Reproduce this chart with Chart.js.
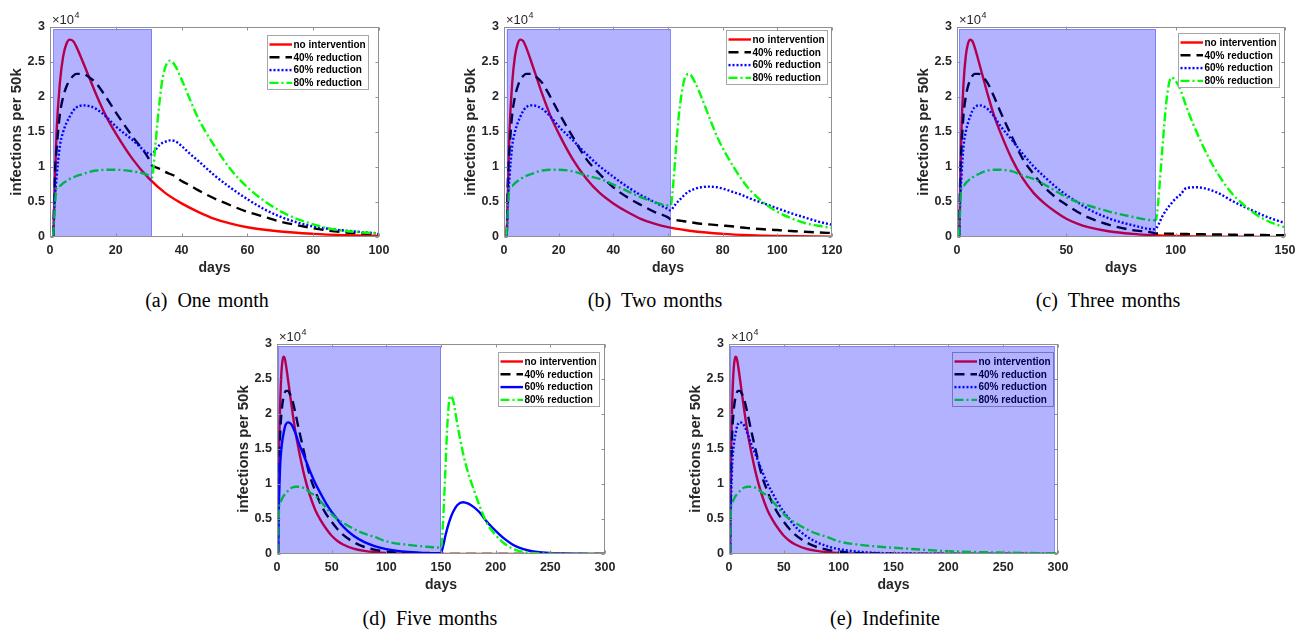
<!DOCTYPE html>
<html>
<head>
<meta charset="utf-8">
<script src="https://cdn.jsdelivr.net/npm/chart.js@4.4.0/dist/chart.umd.min.js"></script>
<style>
  html, body { margin: 0; padding: 0; background: #fff; width: 1304px; height: 633px; overflow: hidden; }
  .cap { position: absolute; font-family: "Liberation Serif", "Times New Roman", serif; font-size: 20px;
         line-height: 20px; white-space: pre; color: #000; transform: translateX(-50%); word-spacing: 2px; }
</style>
</head>
<body>
<script>
// Infections per 50k (in units of 10^4) while the contact reduction is in force.
const activeDays     = [1, 1.5, 2, 3, 4, 5, 6, 7, 8, 10, 12, 14, 17, 20, 25, 30, 35, 40, 45, 50, 55, 60, 70, 80, 90, 100, 120, 140, 150, 200, 250, 300];
const noIntervention = [0.02, 0.8, 1.5, 2.2, 2.58, 2.76, 2.82, 2.8, 2.72, 2.5, 2.27, 2.04, 1.73, 1.48, 1.12, 0.84, 0.63, 0.48, 0.36, 0.26, 0.19, 0.14, 0.078, 0.045, 0.026, 0.015, 0.005, 0.002, 0.001, 0, 0, 0];
const reduction40    = [0.02, 0.9, 1.25, 1.75, 2.0, 2.15, 2.24, 2.3, 2.33, 2.33, 2.28, 2.2, 2.0, 1.78, 1.44, 1.12, 0.9, 0.71, 0.57, 0.46, 0.36, 0.28, 0.17, 0.1, 0.06, 0.035, 0.012, 0.005, 0.003, 0, 0, 0];
const reduction60    = [0.02, 0.55, 0.85, 1.3, 1.5, 1.63, 1.72, 1.8, 1.85, 1.88, 1.87, 1.83, 1.72, 1.58, 1.39, 1.19, 1.01, 0.86, 0.72, 0.6, 0.5, 0.4, 0.26, 0.17, 0.11, 0.07, 0.03, 0.013, 0.01, 0.002, 0, 0];
const reduction80    = [0.02, 0.45, 0.7, 0.73, 0.77, 0.8, 0.83, 0.85, 0.87, 0.9, 0.93, 0.95, 0.96, 0.96, 0.94, 0.88, 0.83, 0.75, 0.66, 0.57, 0.5, 0.45, 0.36, 0.29, 0.24, 0.18, 0.13, 0.1, 0.09, 0.04, 0.02, 0.01];

// After lifting the reduction: one month
const liftDaysA = [31, 32, 33, 34, 35, 36.5, 38, 40, 42.5, 45, 50, 55, 60, 65, 70, 75, 80, 85, 90, 95, 100];
const lift40A   = [1.02, 1.0, 0.98, 0.96, 0.93, 0.9, 0.87, 0.8, 0.74, 0.67, 0.55, 0.45, 0.36, 0.29, 0.22, 0.17, 0.125, 0.09, 0.065, 0.05, 0.04];
const lift60A   = [1.18, 1.24, 1.3, 1.34, 1.36, 1.38, 1.37, 1.3, 1.19, 1.09, 0.88, 0.7, 0.54, 0.4, 0.29, 0.21, 0.15, 0.115, 0.09, 0.07, 0.05];
const lift80A   = [0.85, 1.3, 1.8, 2.2, 2.42, 2.52, 2.45, 2.25, 1.97, 1.7, 1.3, 0.96, 0.71, 0.52, 0.37, 0.26, 0.18, 0.12, 0.085, 0.065, 0.05];

// Two months
const liftDaysB = [61, 62, 63, 64, 65, 66, 67.6, 70, 72, 75, 78, 81, 84, 87, 90, 95, 100, 105, 110, 115, 120];
const lift40B   = [0.25, 0.245, 0.24, 0.235, 0.23, 0.225, 0.215, 0.2, 0.19, 0.18, 0.17, 0.16, 0.15, 0.135, 0.125, 0.11, 0.1, 0.085, 0.075, 0.065, 0.057];
const lift60B   = [0.38, 0.43, 0.48, 0.52, 0.56, 0.6, 0.65, 0.69, 0.71, 0.72, 0.71, 0.68, 0.64, 0.6, 0.55, 0.48, 0.41, 0.34, 0.28, 0.22, 0.175];
const lift80B   = [0.45, 0.8, 1.3, 1.75, 2.05, 2.25, 2.33, 2.2, 2.02, 1.72, 1.43, 1.2, 1.0, 0.82, 0.67, 0.49, 0.36, 0.27, 0.2, 0.16, 0.13];

// Three months
const liftDaysC = [91, 92, 94, 96, 98, 100, 102, 105, 110, 115, 120, 125, 130, 135, 140, 145, 150];
const lift40C   = [0.05, 0.05, 0.049, 0.048, 0.047, 0.045, 0.044, 0.042, 0.04, 0.037, 0.035, 0.033, 0.03, 0.029, 0.028, 0.026, 0.025];
const lift60C   = [0.12, 0.17, 0.3, 0.4, 0.48, 0.55, 0.6, 0.7, 0.71, 0.68, 0.62, 0.53, 0.45, 0.38, 0.31, 0.25, 0.2];
const lift80C   = [0.24, 0.5, 1.3, 2.0, 2.28, 2.23, 2.12, 1.85, 1.47, 1.14, 0.87, 0.65, 0.49, 0.36, 0.26, 0.19, 0.14];

// Five months
const liftDaysD = [150, 152, 154, 156, 158.4, 161, 165, 170, 175, 180, 185, 192, 200, 207, 215, 222, 230, 240, 253, 270, 300];
const lift40D   = [0.003, 0.002, 0.001, 0.001, 0, 0, 0, 0, 0, 0, 0, 0, 0, 0, 0, 0, 0, 0, 0, 0, 0];
const lift60D   = [0.01, 0.12, 0.26, 0.38, 0.5, 0.6, 0.7, 0.74, 0.72, 0.67, 0.6, 0.46, 0.33, 0.23, 0.14, 0.086, 0.05, 0.025, 0.01, 0.003, 0];
const lift80D   = [0.09, 0.5, 1.2, 1.9, 2.26, 2.2, 1.85, 1.45, 1.15, 0.92, 0.7, 0.44, 0.27, 0.16, 0.08, 0.04, 0.02, 0.008, 0.003, 0.001, 0];

// Reduction period (days) and axis extents per panel
const lockdownStart = [1, 1, 1, 1, 1];
const lockdownEnd   = [31, 61, 91, 150, 297];
const lockdownTop   = 2.97;
const xMax  = [100, 120, 150, 300, 300];
const xStep = [20, 20, 50, 50, 50];
const yMax  = 3;
const yStep = 0.5;

const seriesNames = ['no intervention', '40% reduction', '60% reduction', '80% reduction'];
const captions = ['(a)\u2002One month', '(b)\u2002Two months', '(c)\u2002Three months', '(d)\u2002Five months', '(e)\u2002Indefinite'];

const liftSets = [
  { days: liftDaysA, r40: lift40A, r60: lift60A, r80: lift80A },
  { days: liftDaysB, r40: lift40B, r60: lift60B, r80: lift80B },
  { days: liftDaysC, r40: lift40C, r60: lift60C, r80: lift80C },
  { days: liftDaysD, r40: lift40D, r60: lift60D, r80: lift80D },
  null
];

// ---------- layout ----------
const panels = [
  { left: 50,  top: 27,  w: 329, h: 210, legendDx: 11.5, legendDy: 8, capX: 207,  capY: 290 },
  { left: 504, top: 27,  w: 328, h: 210, legendDx: 5,    legendDy: 3, capX: 655,  capY: 290 },
  { left: 957, top: 27,  w: 328, h: 210, legendDx: 6,    legendDy: 6, capX: 1108, capY: 290 },
  { left: 277, top: 344, w: 328, h: 210, legendDx: 6,    legendDy: 8, capX: 430,  capY: 608 },
  { left: 729, top: 344, w: 329, h: 210, legendDx: 5,    legendDy: 8, capX: 885,  capY: 608 }
];
const PADL = 50, PADT = 30, PADR = 20, PADB = 45;
const AX = '#262626';
const FRAME = '#8f8f8f';
const LW = 2.4;

Chart.defaults.font.family = '"Liberation Sans", Arial, sans-serif';

function pts(days, vals) { return days.map((d, i) => ({ x: d, y: vals[i] })); }
function joined(active, liftDays, liftVals) {
  const base = pts(activeDays, active);
  if (!liftDays) return base;
  return base.filter(p => p.x < liftDays[0]).concat(pts(liftDays, liftVals));
}

// Legend, shaded reduction period, axes box with inward ticks and the x10^4 exponent
const panelDecor = {
  id: 'panelDecor',
  afterDatasetsDraw(chart, args, opts) {
    const { ctx, chartArea: a, scales: { x, y } } = chart;
    ctx.save();

    // legend box
    const bw = 101, bh = 54;
    const bx = Math.round(a.right - opts.legendDx - bw) + 0.5;
    const by = Math.round(a.top + opts.legendDy) + 0.5;
    ctx.fillStyle = '#ffffff';
    ctx.fillRect(bx, by, bw, bh);
    ctx.strokeStyle = '#a6a6a6';
    ctx.lineWidth = 1;
    ctx.setLineDash([]);
    ctx.strokeRect(bx, by, bw, bh);
    ctx.font = 'bold 10px "Liberation Sans", Arial, sans-serif';
    ctx.textBaseline = 'middle';
    ctx.textAlign = 'left';
    chart.data.datasets.forEach((ds, i) => {
      const ry = by + 9 + i * 12.8;
      ctx.beginPath();
      ctx.strokeStyle = ds.borderColor;
      ctx.lineWidth = ds.borderWidth;
      ctx.setLineDash(ds.borderDash || []);
      ctx.moveTo(bx + 2, ry);
      ctx.lineTo(bx + 24.5, ry);
      ctx.stroke();
      ctx.setLineDash([]);
      ctx.fillStyle = '#000';
      ctx.fillText(ds.label, bx + 26, ry + 0.5);
    });

    // translucent reduction period
    const sx0 = x.getPixelForValue(opts.shade[0]);
    const sx1 = x.getPixelForValue(opts.shade[1]);
    const sy0 = y.getPixelForValue(opts.shade[2]);
    const sy1 = y.getPixelForValue(0);
    ctx.fillStyle = 'rgba(0,0,255,0.3)';
    ctx.fillRect(sx0, sy0, sx1 - sx0, sy1 - sy0);
    ctx.strokeStyle = 'rgba(60,60,255,0.45)';
    ctx.lineWidth = 1;
    ctx.strokeRect(Math.round(sx0) + 0.5, Math.round(sy0) + 0.5, Math.round(sx1 - sx0) - 1, Math.round(sy1 - sy0) - 1);

    // axes frame
    ctx.strokeStyle = FRAME;
    ctx.lineWidth = 1;
    const L = Math.round(a.left) + 0.5, R = Math.round(a.right) - 0.5;
    const T = Math.round(a.top) + 0.5, B = Math.round(a.bottom) - 0.5;
    ctx.strokeRect(L, T, R - L, B - T);
    ctx.beginPath();
    x.ticks.forEach(t => {
      const px = Math.round(x.getPixelForValue(t.value)) + 0.5;
      ctx.moveTo(px, B); ctx.lineTo(px, B - 3);
      ctx.moveTo(px, T); ctx.lineTo(px, T + 3);
    });
    y.ticks.forEach(t => {
      const py = Math.round(y.getPixelForValue(t.value)) + 0.5;
      ctx.moveTo(L, py); ctx.lineTo(L + 3, py);
      ctx.moveTo(R, py); ctx.lineTo(R - 3, py);
    });
    ctx.stroke();

    // exponent label
    ctx.fillStyle = AX;
    ctx.textBaseline = 'alphabetic';
    ctx.font = '13px "Liberation Sans", Arial, sans-serif';
    const base = '\u00d710';
    ctx.fillText(base, a.left + 2, a.top - 3.5);
    const bwid = ctx.measureText(base).width;
    ctx.font = '9px "Liberation Sans", Arial, sans-serif';
    ctx.fillText('4', a.left + 2.5 + bwid, a.top - 9.5);
    ctx.restore();
  }
};

panels.forEach((P, i) => {
  const cv = document.createElement('canvas');
  cv.width = P.w + PADL + PADR;
  cv.height = P.h + PADT + PADB;
  cv.style.cssText = `position:absolute;left:${P.left - PADL}px;top:${P.top - PADT}px;width:${cv.width}px;height:${cv.height}px;`;
  document.body.appendChild(cv);

  const lift = liftSets[i];
  const datasets = [
    { label: seriesNames[0], data: pts(activeDays, noIntervention),
      borderColor: '#ff0000', borderWidth: LW, borderDash: [], order: 4 },
    { label: seriesNames[1], data: joined(reduction40, lift && lift.days, lift && lift.r40),
      borderColor: '#000000', borderWidth: LW, borderDash: [10, 6], order: 3 },
    { label: seriesNames[2], data: joined(reduction60, lift && lift.days, lift && lift.r60),
      borderColor: '#0000ff', borderWidth: LW, borderDash: i === 3 ? [] : [2, 2], order: 2 },
    { label: seriesNames[3], data: joined(reduction80, lift && lift.days, lift && lift.r80),
      borderColor: '#00ff00', borderWidth: LW, borderDash: [9, 3, 2, 3], order: 1 }
  ];

  new Chart(cv, {
    type: 'line',
    data: { datasets },
    options: {
      responsive: false,
      animation: false,
      devicePixelRatio: 1,
      layout: { padding: { top: PADT, right: PADR, left: 0, bottom: 0 } },
      elements: { point: { radius: 0 }, line: { cubicInterpolationMode: 'monotone', fill: false } },
      plugins: {
        legend: { display: false },
        tooltip: { enabled: false },
        panelDecor: { legendDx: P.legendDx, legendDy: P.legendDy, shade: [lockdownStart[i], lockdownEnd[i], lockdownTop] }
      },
      scales: {
        x: {
          type: 'linear', min: 0, max: xMax[i],
          afterFit(s) { s.height = PADB; },
          grid: { display: false, drawTicks: false },
          border: { display: false },
          ticks: { stepSize: xStep[i], autoSkip: false, maxRotation: 0, padding: 6, color: AX,
                   font: { size: 12.5, weight: 'bold' }, callback: v => String(v) },
          title: { display: true, text: 'days', color: AX, font: { size: 14, weight: 'bold' },
                   padding: { top: 0, bottom: 5 } }
        },
        y: {
          type: 'linear', min: 0, max: yMax,
          afterFit(s) { s.width = PADL; },
          grid: { display: false, drawTicks: false },
          border: { display: false },
          ticks: { stepSize: yStep, padding: 5, color: AX, font: { size: 12.5, weight: 'bold' },
                   callback: v => String(v) },
          title: { display: true, text: 'infections per 50k', color: AX, font: { size: 15, weight: 'bold' },
                   padding: { top: 8, bottom: 0 } }
        }
      }
    },
    plugins: [panelDecor]
  });

  const cap = document.createElement('div');
  cap.className = 'cap';
  cap.textContent = captions[i];
  cap.style.left = P.capX + 'px';
  cap.style.top = P.capY + 'px';
  document.body.appendChild(cap);
});
</script>
</body>
</html>
